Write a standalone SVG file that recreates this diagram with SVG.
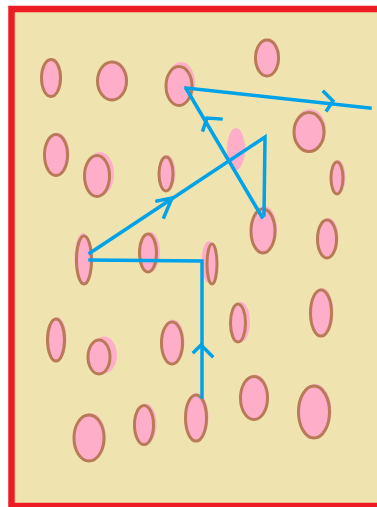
<svg xmlns="http://www.w3.org/2000/svg" width="377" height="507" viewBox="0 0 377 507">
<style>
.bg{fill:#EFE4B0;stroke:#ED1C24;stroke-width:6.5}
.p{fill:#FFAEC9;stroke:none}
.o{fill:#FFAEC9;stroke:#B97A57;stroke-width:3}
.e{fill:none;stroke:#00A2E8;stroke-width:3.5;stroke-linecap:square;stroke-linejoin:miter}
</style>
<rect width="377" height="507" fill="#FFFFFF"/>
<rect class="bg" x="11.5" y="9" width="420" height="497"/>
<g id="nodes">
<g id="n1"><ellipse class="p" cx="52" cy="77" rx="10" ry="19"/><ellipse class="o" cx="51" cy="78" rx="9.5" ry="18.5"/></g>
<g id="n2"><ellipse class="p" cx="113" cy="80" rx="15" ry="19.5"/><ellipse class="o" cx="112" cy="81" rx="14.5" ry="19"/></g>
<g id="n3"><ellipse class="p" cx="181" cy="83" rx="14" ry="21"/><ellipse class="o" cx="179" cy="86" rx="13" ry="19.5"/></g>
<g id="n4"><ellipse class="p" cx="268" cy="57" rx="12" ry="18.5"/><ellipse class="o" cx="267" cy="58" rx="11.5" ry="18"/></g>
<g id="n5"><ellipse class="p" cx="310" cy="130" rx="16" ry="21"/><ellipse class="o" cx="309" cy="132" rx="15" ry="19.5"/></g>
<g id="n6"><ellipse class="p" cx="236" cy="149" rx="9" ry="21"/></g>
<g id="n7"><ellipse class="p" cx="57" cy="154" rx="12.5" ry="21.5"/><ellipse class="o" cx="56" cy="155" rx="11.5" ry="20.5"/></g>
<g id="n8"><ellipse class="p" cx="100" cy="174" rx="14" ry="22"/><ellipse class="o" cx="97" cy="176" rx="12.5" ry="20.5"/></g>
<g id="n9"><ellipse class="p" cx="167" cy="173" rx="8.5" ry="18"/><ellipse class="o" cx="166" cy="174" rx="7" ry="17"/></g>
<g id="n10"><ellipse class="p" cx="338" cy="177" rx="7.5" ry="17"/><ellipse class="o" cx="337" cy="178" rx="6" ry="16"/></g>
<g id="n11"><ellipse class="p" cx="264" cy="229" rx="13" ry="23"/><ellipse class="o" cx="263" cy="231" rx="12" ry="22"/></g>
<g id="n12"><ellipse class="p" cx="328" cy="238" rx="10.5" ry="20"/><ellipse class="o" cx="327" cy="239" rx="9.5" ry="19"/></g>
<g id="n13"><ellipse class="p" cx="83" cy="258" rx="8.5" ry="25"/><ellipse class="o" cx="84" cy="260" rx="7.5" ry="24"/></g>
<g id="n14"><ellipse class="p" cx="150" cy="252" rx="10" ry="20"/><ellipse class="o" cx="148" cy="253" rx="8.5" ry="19"/></g>
<g id="n15"><ellipse class="p" cx="209" cy="262" rx="7.5" ry="21"/><ellipse class="o" cx="212" cy="264" rx="5" ry="20"/></g>
<g id="n16"><ellipse class="p" cx="322" cy="312" rx="11.5" ry="24"/><ellipse class="o" cx="321" cy="313" rx="10.5" ry="23"/></g>
<g id="n17"><ellipse class="p" cx="241" cy="322" rx="9" ry="20"/><ellipse class="o" cx="238" cy="323" rx="7.5" ry="19"/></g>
<g id="n18"><ellipse class="p" cx="57" cy="339" rx="9.5" ry="22"/><ellipse class="o" cx="56" cy="340" rx="8.5" ry="21"/></g>
<g id="n19"><ellipse class="p" cx="173" cy="342" rx="11.5" ry="22.5"/><ellipse class="o" cx="172" cy="343" rx="10.5" ry="21"/></g>
<g id="n20"><ellipse class="p" cx="104" cy="355" rx="13" ry="18.5"/><ellipse class="o" cx="99" cy="357" rx="11" ry="17"/></g>
<g id="n21"><ellipse class="p" cx="90" cy="437" rx="16" ry="24"/><ellipse class="o" cx="89" cy="438" rx="15" ry="23"/></g>
<g id="n22"><ellipse class="p" cx="146" cy="424" rx="10.5" ry="20.5"/><ellipse class="o" cx="144" cy="425" rx="9.5" ry="19.5"/></g>
<g id="n23"><ellipse class="p" cx="197" cy="417" rx="11.5" ry="24"/><ellipse class="o" cx="196" cy="418" rx="10.5" ry="23"/></g>
<g id="n24"><ellipse class="p" cx="255" cy="397" rx="14" ry="22.5"/><ellipse class="o" cx="254" cy="398" rx="13.5" ry="21.5"/></g>
<g id="n25"><ellipse class="p" cx="315" cy="411" rx="16.5" ry="27"/><ellipse class="o" cx="314" cy="412" rx="15.5" ry="26"/></g>
</g>
<g id="connectors">
<polyline class="e" points="186,88 370,108"/>
<polyline class="e" points="324,92 333,101 327,110"/>
<polyline class="e" points="187,90 262,217"/>
<polyline class="e" points="203,130 207,118 221,119"/>
<polyline class="e" points="90,253 265,137 264,215"/>
<polyline class="e" points="157,201 172,198 164,217"/>
<polyline class="e" points="90,260 202,261 202,397"/>
<polyline class="e" points="194,352 201,345 212,356"/>
</g>
</svg>
